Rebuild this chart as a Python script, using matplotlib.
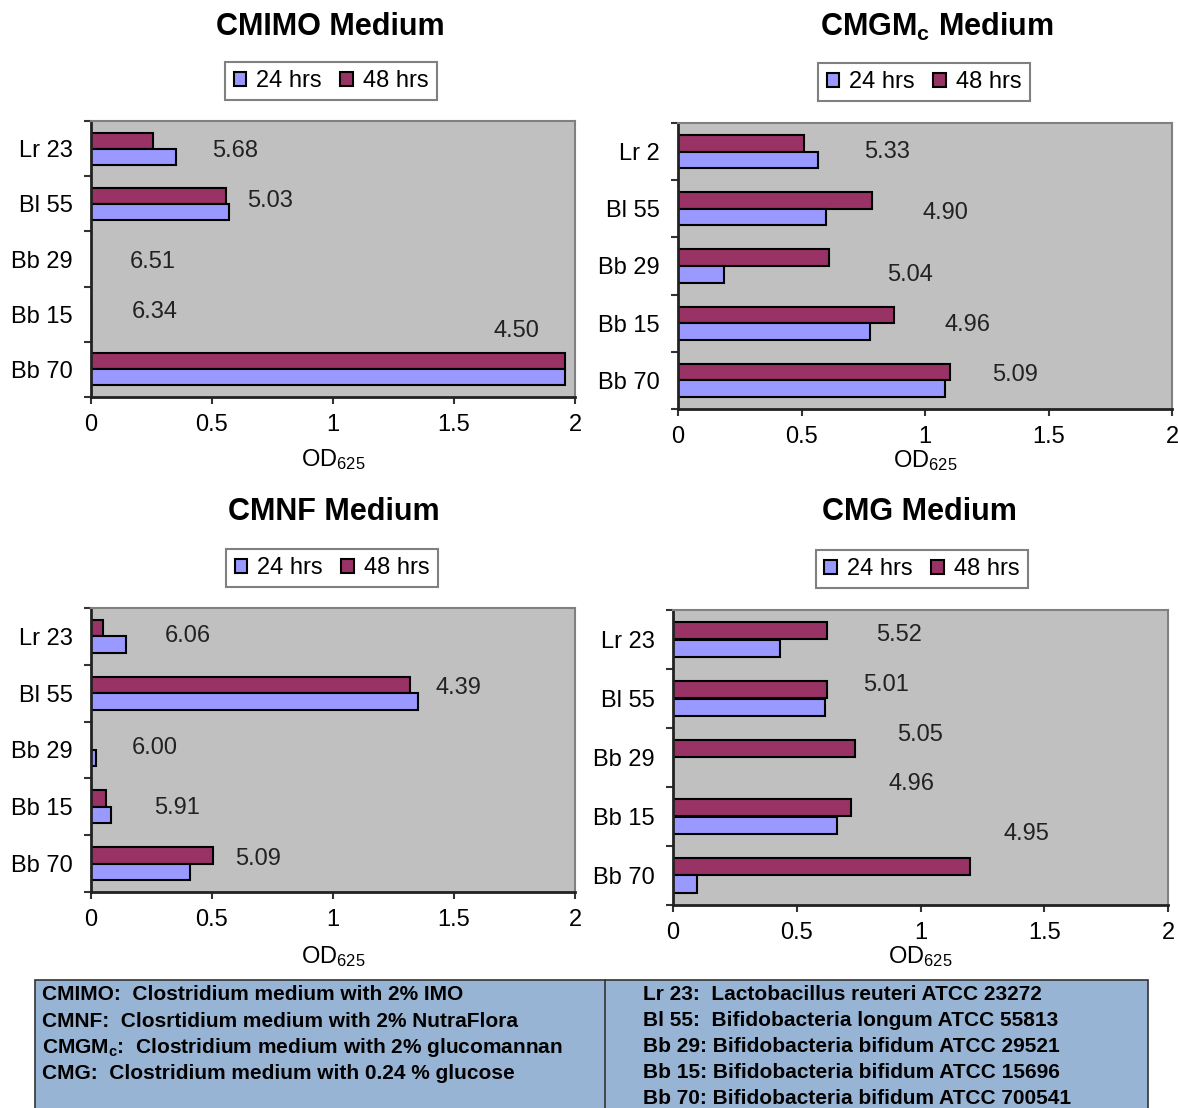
import matplotlib
matplotlib.use("Agg")
import matplotlib.pyplot as plt
import numpy as np
from matplotlib.patches import Rectangle, Patch
from matplotlib.lines import Line2D

plt.rcParams["font.family"] = ["Liberation Sans", "DejaVu Sans"]
plt.rcParams["mathtext.fontset"] = "custom"
plt.rcParams["mathtext.rm"] = "Liberation Sans"
plt.rcParams["mathtext.bf"] = "Liberation Sans:bold"
plt.rcParams["mathtext.it"] = "Liberation Sans:italic"

# ---- data ----
strains = ["Lr 23", "Bl 55", "Bb 29", "Bb 15", "Bb 70"]
strains_cmgmc = ["Lr 2", "Bl 55", "Bb 29", "Bb 15", "Bb 70"]

cmimo_24 = [0.35, 0.57, 0.0, 0.0, 1.96]
cmimo_48 = [0.256, 0.558, 0.0, 0.0, 1.96]
cmimo_ph = ["5.68", "5.03", "6.51", "6.34", "4.50"]

cmgmc_24 = [0.567, 0.60, 0.186, 0.777, 1.08]
cmgmc_48 = [0.51, 0.785, 0.61, 0.875, 1.10]
cmgmc_ph = ["5.33", "4.90", "5.04", "4.96", "5.09"]

cmnf_24 = [0.145, 1.35, 0.02, 0.083, 0.41]
cmnf_48 = [0.05, 1.32, 0.0, 0.062, 0.504]
cmnf_ph = ["6.06", "4.39", "6.00", "5.91", "5.09"]

cmg_24 = [0.432, 0.614, 0.0, 0.663, 0.097]
cmg_48 = [0.622, 0.622, 0.735, 0.719, 1.20]
cmg_ph = ["5.52", "5.01", "5.05", "4.96", "4.95"]

xticks = [0, 0.5, 1, 1.5, 2]
xtick_labels = ["0", "0.5", "1", "1.5", "2"]

legend_notes_left = [
    "CMIMO:  Clostridium medium with 2% IMO",
    "CMNF:  Closrtidium medium with 2% NutraFlora",
    r"CMGM$_\mathbf{c}$:  Clostridium medium with 2% glucomannan",
    "CMG:  Clostridium medium with 0.24 % glucose",
]
legend_notes_right = [
    "Lr 23:  Lactobacillus reuteri ATCC 23272",
    "Bl 55:  Bifidobacteria longum ATCC 55813",
    "Bb 29: Bifidobacteria bifidum ATCC 29521",
    "Bb 15: Bifidobacteria bifidum ATCC 15696",
    "Bb 70: Bifidobacteria bifidum ATCC 700541",
]

# ---- layout (figure pixels) ----
W, H = 1178, 1108
C24 = "#9999FF"
C48 = "#993366"
PLOT_BG = "#C0C0C0"

panels = [
    dict(title="CMIMO Medium", title_xy=(330, 27), box=(91, 121, 575, 397), legend_xy=(331, 81),
         cats=strains, v24=cmimo_24, v48=cmimo_48, ph=cmimo_ph, labelpad=8,
         ann=[(0.595, 0.04), (0.74, 0.95), (0.256, 2.05), (0.264, 2.96), (1.76, 3.3)]),
    dict(title=r"CMGM$_\mathbf{c}$ Medium", title_xy=(937, 27), box=(678, 123, 1172, 409), legend_xy=(924, 82),
         cats=strains_cmgmc, v24=cmgmc_24, v48=cmgmc_48, ph=cmgmc_ph, labelpad=0,
         ann=[(0.846, 0.0), (1.081, 1.07), (0.939, 2.16), (1.174, 3.03), (1.364, 3.9)]),
    dict(title="CMNF Medium", title_xy=(334, 512), box=(91, 608, 575, 892), legend_xy=(332, 568),
         cats=strains, v24=cmnf_24, v48=cmnf_48, ph=cmnf_ph, labelpad=10,
         ann=[(0.40, 0.0), (1.52, 0.91), (0.264, 1.96), (0.355, 3.02), (0.69, 3.92)]),
    dict(title="CMG Medium", title_xy=(919, 512), box=(673, 610, 1168, 905), legend_xy=(922, 569),
         cats=strains, v24=cmg_24, v48=cmg_48, ph=cmg_ph, labelpad=0,
         ann=[(0.913, -0.08), (0.86, 0.77), (1.0, 1.62), (0.962, 2.45), (1.43, 3.3)]),
]

fig = plt.figure(figsize=(W / 100, H / 100), dpi=100)

bar_h = 0.29
for p in panels:
    x0, y0, x1, y1 = p["box"]
    ax = fig.add_axes([x0 / W, 1 - y1 / H, (x1 - x0) / W, (y1 - y0) / H])
    ax.set_facecolor(PLOT_BG)
    pos = np.arange(len(p["cats"]))
    ax.barh(pos - bar_h / 2, p["v48"], height=bar_h, color=C48, edgecolor="black", linewidth=1.5)
    ax.barh(pos + bar_h / 2, p["v24"], height=bar_h, color=C24, edgecolor="black", linewidth=1.5)
    for lab, (ax_x, ax_y) in zip(p["ph"], p["ann"]):
        ax.text(ax_x, ax_y, lab, ha="center", va="center", fontsize=17, color="#222222")
    ax.set_xlim(0, 2)
    ax.set_ylim(len(p["cats"]) - 0.5, -0.5)
    ax.set_xticks(xticks)
    ax.set_xticklabels(xtick_labels)
    ax.set_yticks(pos)
    ax.set_yticklabels(p["cats"])
    ax.set_yticks(np.arange(len(p["cats"]) + 1) - 0.5, minor=True)
    ax.tick_params(axis="y", which="major", length=0, pad=13, labelsize=17)
    ax.tick_params(axis="y", which="minor", length=5, width=1.5, color="#333333")
    ax.tick_params(axis="x", length=5, width=1.5, pad=7, labelsize=17, color="#333333")
    for s in ["left", "bottom"]:
        ax.spines[s].set_color("#222222")
        ax.spines[s].set_linewidth(2)
    for s in ["top", "right"]:
        ax.spines[s].set_color("#808080")
        ax.spines[s].set_linewidth(1.5)
    ax.set_xlabel("OD$_{625}$", fontsize=17, labelpad=p["labelpad"])

    handles = [Patch(facecolor=C24, edgecolor="black", linewidth=1.5),
               Patch(facecolor=C48, edgecolor="black", linewidth=1.5)]
    lx, ly = p["legend_xy"]
    leg = ax.legend(handles, ["24 hrs", "48 hrs"], loc="center", bbox_to_anchor=(lx / W, 1 - ly / H),
                    bbox_transform=fig.transFigure, ncol=2, fontsize=17, handlelength=0.55,
                    handleheight=0.55, handletextpad=0.4, columnspacing=0.8, borderpad=0.35,
                    borderaxespad=0, fancybox=False, framealpha=1, edgecolor="#808080")
    leg.get_frame().set_linewidth(1.5)

    tx, ty = p["title_xy"]
    fig.text(tx / W, 1 - ty / H, p["title"], ha="center", va="center", fontsize=22, fontweight="bold")

# ---- notes box at the bottom ----
fig.patches.append(Rectangle((35 / W, -0.01), (1148 - 35) / W, 0.01 + 1 - 980 / H,
                             transform=fig.transFigure, facecolor="#98B4D4", edgecolor="#333333",
                             linewidth=1.2, zorder=0))
fig.lines.append(Line2D([605 / W, 605 / W], [0, 1 - 980 / H], transform=fig.transFigure,
                        color="#333333", linewidth=1.2))
for i, t in enumerate(legend_notes_left):
    fig.text(42 / W, 1 - (995 + 26.3 * i) / H, t, ha="left", va="center", fontsize=15,
             fontweight="bold")
for i, t in enumerate(legend_notes_right):
    fig.text(643 / W, 1 - (995 + 26 * i) / H, t, ha="left", va="center", fontsize=15,
             fontweight="bold")

fig.savefig("out.png", dpi=100)
